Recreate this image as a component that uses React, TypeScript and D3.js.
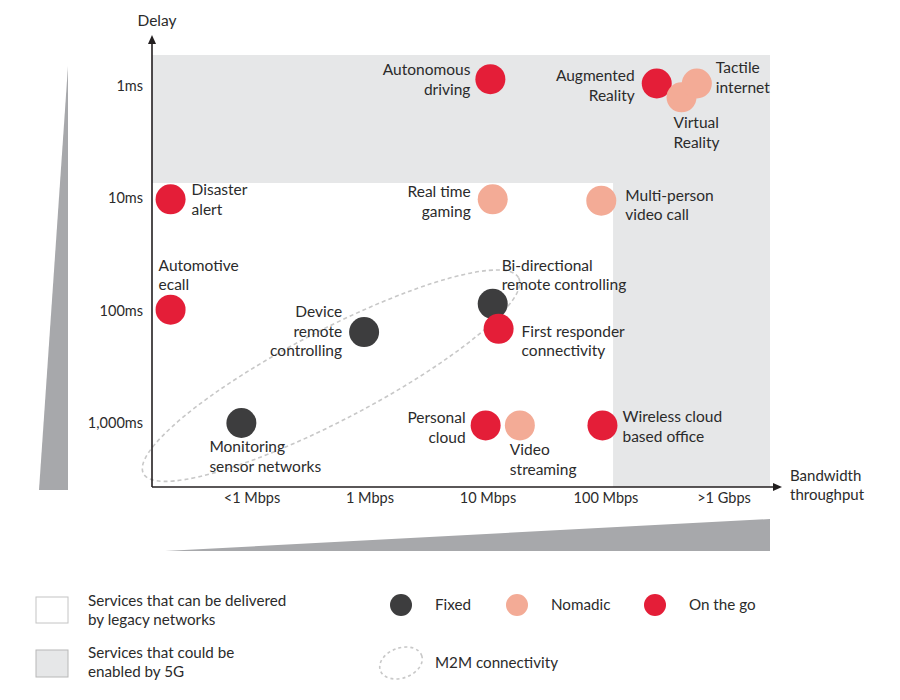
import React from "react";
import * as d3 from "d3";

// services plotted on the chart
const services = [
  "Autonomous driving", "Augmented Reality", "Virtual Reality", "Tactile internet",
  "Disaster alert", "Real time gaming", "Multi-person video call",
  "Automotive ecall", "Device remote controlling", "Bi-directional remote controlling",
  "First responder connectivity", "Monitoring sensor networks",
  "Personal cloud", "Video streaming", "Wireless cloud based office",
];
// bandwidth level: 0 = <1 Mbps, 1 = 1 Mbps, 2 = 10 Mbps, 3 = 100 Mbps, 4 = >1 Gbps
const bandwidth = [2.02, 3.43, 3.64, 3.77, -0.69, 2.04, 2.96, -0.69, 0.95, 2.04, 2.09, -0.09, 1.98, 2.27, 2.97];
// delay in ms
const delay = [0.87, 0.95, 1.26, 0.95, 10.2, 10.2, 10.5, 98, 155, 87, 145, 1000, 1050, 1050, 1050];
const mobility = ["go", "go", "nomadic", "nomadic", "go", "nomadic", "nomadic", "go", "fixed", "fixed", "go", "fixed", "go", "nomadic", "go"];

const bandwidthTicks = ["<1 Mbps", "1 Mbps", "10 Mbps", "100 Mbps", ">1 Gbps"];
const delayTicks = [1, 10, 100, 1000];
const delayTickLabels = ["1ms", "10ms", "100ms", "1,000ms"];

// M2M group: ends of the ellipse's long axis as [bandwidth level, delay ms]
const m2mEnds = [[-0.92, 2820], [2.26, 51]];

const mobilityKeys = ["fixed", "nomadic", "go"];
const mobilityLabels = ["Fixed", "Nomadic", "On the go"];
const zoneLabels = [
  ["Services that can be delivered", "by legacy networks"],
  ["Services that could be", "enabled by 5G"],
];

// label layout per service: [anchor, dx, dy of first line]
const labelLayout: [string, number, number][] = [
  ["end", -20, -9], ["end", -22, -7], ["start", -8, 26], ["start", 19, -15],
  ["start", 21, -9], ["end", -22, -7], ["start", 24, -5],
  ["start", -12, -44], ["end", -22, -20], ["start", 9, -38],
  ["start", 23, 3], ["start", -32, 24],
  ["end", -20, -7], ["start", -10, 25], ["start", 20, -8],
];

const colors: Record<string, string> = { fixed: "#3d3d3e", nomadic: "#f3ab96", go: "#e41e38" };
const font = "Lato, 'Open Sans', sans-serif";
const ink = "#2b2b2b";

export default function App() {
  const left = 152, right = 770, top = 55, bottom = 487;
  const x = d3.scaleLinear().domain([0, 4]).range([252, 724]);
  const y = d3.scaleLog().domain([1, 1000]).range([86, 423]);
  const r = 15;

  // 5G zones: top band down to ~7ms, right column from ~100 Mbps
  const bandBottom = y(7.3);
  const colLeft = x(3.06);

  const [e0, e1] = m2mEnds.map(([b, d]) => [x(b), y(d)]);
  const ecx = (e0[0] + e1[0]) / 2, ecy = (e0[1] + e1[1]) / 2;
  const erx = Math.hypot(e1[0] - e0[0], e1[1] - e0[1]) / 2;
  const eang = (Math.atan2(e1[1] - e0[1], e1[0] - e0[0]) * 180) / Math.PI;

  const order = d3.range(services.length);

  return (
    <svg width={900} height={700} style={{ position: "absolute", left: 0, top: 0, background: "#fff" }} fontFamily={font}>
      {/* 5G zone */}
      <path
        d={`M${left},${top}H${right}V${bottom}H${colLeft}V${bandBottom}H${left}Z`}
        fill="#e6e7e8"
      />

      {/* gradient wedges */}
      <polygon points="68,66 68,490 39,490" fill="#a7a8ab" />
      <polygon points="165,551 770,519 770,551" fill="#a7a8ab" />

      {/* M2M ellipse */}
      <ellipse
        cx={ecx} cy={ecy} rx={erx} ry={45}
        transform={`rotate(${eang},${ecx},${ecy})`}
        fill="none" stroke="#c8c8c8" strokeWidth={1.6} strokeDasharray="4 3"
      />

      {/* axes */}
      <line x1={left} y1={bottom} x2={left} y2={42} stroke="#231f20" strokeWidth={1.6} />
      <path d={`M${left - 4},${44}L${left},${35}L${left + 4},${44}Z`} fill="#231f20" />
      <line x1={left} y1={bottom} x2={775} y2={bottom} stroke="#231f20" strokeWidth={1.6} />
      <path d={`M${773},${bottom - 4}L${782},${bottom}L${773},${bottom + 4}Z`} fill="#231f20" />
      <text x={157} y={26} textAnchor="middle" fontSize={15.5} fill={ink}>Delay</text>
      <text x={790} y={481} fontSize={15} fill={ink}>Bandwidth</text>
      <text x={790} y={500} fontSize={15} fill={ink}>throughput</text>

      {delayTicks.map((d, i) => (
        <text key={d} x={143} y={y(d) + 5} textAnchor="end" fontSize={14.5} fill={ink}>{delayTickLabels[i]}</text>
      ))}
      {bandwidthTicks.map((t, i) => (
        <text key={t} x={x(i)} y={503} textAnchor="middle" fontSize={14.5} fill={ink}>{t}</text>
      ))}

      {/* services */}
      {order.map((i) => (
        <circle key={services[i]} cx={x(bandwidth[i])} cy={y(delay[i])} r={r} fill={colors[mobility[i]]} />
      ))}
      {order.map((i) => {
        const [anchor, dx, dy] = labelLayout[i];
        const lines = splitLabel(services[i]);
        const cx = x(bandwidth[i]), cy = y(delay[i]);
        return (
          <text key={"l" + i} textAnchor={anchor} fontSize={15.5} fill={ink}>
            {lines.map((ln, k) => (
              <tspan key={k} x={cx + dx} y={cy + dy + 5 + k * 19.5}>{ln}</tspan>
            ))}
          </text>
        );
      })}

      {/* legend: zones */}
      <rect x={36} y={597} width={32} height={26} fill="#fff" stroke="#c4c4c4" strokeWidth={1} />
      <rect x={36} y={650} width={32} height={27} fill="#e6e7e8" stroke="#b8b8b8" strokeWidth={1} />
      {zoneLabels.map((lines, i) => (
        <text key={i} fontSize={15.2} fill={ink}>
          {lines.map((ln, k) => (
            <tspan key={k} x={88} y={606 + i * 52 + k * 19}>{ln}</tspan>
          ))}
        </text>
      ))}

      {/* legend: mobility */}
      {mobilityKeys.map((k, i) => {
        const lx = [401, 517, 655][i];
        return (
          <g key={k}>
            <circle cx={lx} cy={605} r={11} fill={colors[k]} />
            <text x={lx + 34} y={610} fontSize={15.2} fill={ink}>{mobilityLabels[i]}</text>
          </g>
        );
      })}
      <ellipse cx={401} cy={663} rx={22} ry={15} transform="rotate(-20,401,663)" fill="none" stroke="#c8c8c8" strokeWidth={1.6} strokeDasharray="3 3" />
      <text x={435} y={668} fontSize={15.2} fill={ink}>M2M connectivity</text>
    </svg>
  );
}

// line breaks for the service labels
function splitLabel(s: string): string[] {
  const breaks: Record<string, string[]> = {
    "Autonomous driving": ["Autonomous", "driving"],
    "Augmented Reality": ["Augmented", "Reality"],
    "Virtual Reality": ["Virtual", "Reality"],
    "Tactile internet": ["Tactile", "internet"],
    "Disaster alert": ["Disaster", "alert"],
    "Real time gaming": ["Real time", "gaming"],
    "Multi-person video call": ["Multi-person", "video call"],
    "Automotive ecall": ["Automotive", "ecall"],
    "Device remote controlling": ["Device", "remote", "controlling"],
    "Bi-directional remote controlling": ["Bi-directional", "remote controlling"],
    "First responder connectivity": ["First responder", "connectivity"],
    "Monitoring sensor networks": ["Monitoring", "sensor networks"],
    "Personal cloud": ["Personal", "cloud"],
    "Video streaming": ["Video", "streaming"],
    "Wireless cloud based office": ["Wireless cloud", "based office"],
  };
  return breaks[s] || [s];
}
